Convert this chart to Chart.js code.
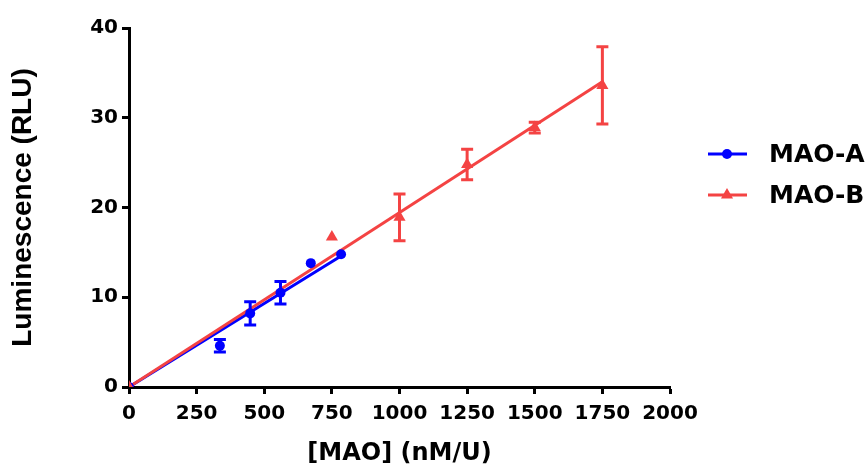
<!DOCTYPE html>
<html>
<head>
<meta charset="utf-8">
<script src="https://cdn.jsdelivr.net/npm/chart.js@4"></script>
<style>
  html, body { margin: 0; padding: 0; background: #fff; }
  .chart-container { width: 867px; height: 468px; position: relative; }
</style>
</head>
<body>
<div class="chart-container"><canvas id="maoChart"></canvas></div>
<script>
// MAO-A (blue circles)
const blueX = [0, 336, 448, 560, 672, 784];
const blueY = [0, 4.6, 8.2, 10.5, 13.8, 14.8];
const blueErr = [0, 0.7, 1.3, 1.25, 0, 0];
// MAO-B (red triangles)
const redX = [0, 750, 1000, 1250, 1500, 1750];
const redY = [0, 16.7, 18.9, 24.8, 28.9, 33.6];
const redErr = [0, 0, 2.6, 1.7, 0.6, 4.3];
// linear fits
const blueFitX = [0, 784];
const blueFitY = [0, 14.6];
const redFitX = [0, 1750];
const redFitY = [0, 34.0];
// axes
const xTicks = [0, 250, 500, 750, 1000, 1250, 1500, 1750, 2000];
const yTicks = [0, 10, 20, 30, 40];
const seriesNames = ['MAO-A', 'MAO-B'];

const BLUE = '#0000ff';
const RED = 'rgb(244,67,67)';
const AXIS_FONT = '"DejaVu Sans", sans-serif';

function toPoints(xs, ys) {
    return xs.map((x, i) => ({ x: x, y: ys[i] }));
}

// error bars drawn through the y scale
const errorBars = {
    id: 'errorBars',
    afterDatasetsDraw(chart) {
        const ctx = chart.ctx;
        const yScale = chart.scales.y;
        chart.data.datasets.forEach((ds, i) => {
            if (!ds.errors) return;
            const meta = chart.getDatasetMeta(i);
            ctx.save();
            ctx.strokeStyle = ds.borderColor;
            ctx.lineWidth = 3;
            meta.data.forEach((pt, j) => {
                const err = ds.errors[j];
                if (!err) return;
                const top = yScale.getPixelForValue(ds.data[j].y + err);
                const bot = yScale.getPixelForValue(ds.data[j].y - err);
                ctx.beginPath();
                ctx.moveTo(pt.x, top);
                ctx.lineTo(pt.x, bot);
                ctx.moveTo(pt.x - 6, top);
                ctx.lineTo(pt.x + 6, top);
                ctx.moveTo(pt.x - 6, bot);
                ctx.lineTo(pt.x + 6, bot);
                ctx.stroke();
            });
            ctx.restore();
        });
    }
};

// legend with line + marker
const sideLegend = {
    id: 'sideLegend',
    afterDraw(chart) {
        const ctx = chart.ctx;
        const items = [
            { name: seriesNames[0], color: BLUE, style: 'circle', radius: 5, y: 154 },
            { name: seriesNames[1], color: RED, style: 'triangle', radius: 7, y: 195 }
        ];
        ctx.save();
        items.forEach(it => {
            ctx.strokeStyle = it.color;
            ctx.lineWidth = 3;
            ctx.beginPath();
            ctx.moveTo(708, it.y);
            ctx.lineTo(747, it.y);
            ctx.stroke();
            ctx.fillStyle = it.color;
            Chart.helpers.drawPoint(ctx, {
                pointStyle: it.style, radius: it.radius, borderWidth: 0, rotation: 0
            }, 727, it.y);
            ctx.fillStyle = '#000';
            ctx.font = 'bold 25px ' + AXIS_FONT;
            ctx.textBaseline = 'middle';
            ctx.textAlign = 'left';
            ctx.fillText(it.name, 769, it.y + 1);
        });
        ctx.restore();
    }
};

const ctx = document.getElementById('maoChart').getContext('2d');
new Chart(ctx, {
    type: 'scatter',
    data: {
        datasets: [{
            label: seriesNames[1],
            data: toPoints(redX, redY),
            errors: redErr,
            borderColor: RED,
            backgroundColor: RED,
            pointStyle: 'triangle',
            pointRadius: 7,
            pointBorderWidth: 0,
            order: 0
        }, {
            label: seriesNames[0],
            data: toPoints(blueX, blueY),
            errors: blueErr,
            borderColor: BLUE,
            backgroundColor: BLUE,
            pointStyle: 'circle',
            pointRadius: 5,
            pointBorderWidth: 0,
            order: 1
        }, {
            type: 'line',
            label: 'MAO-B fit',
            data: toPoints(redFitX, redFitY),
            borderColor: RED,
            borderWidth: 3,
            pointRadius: 0,
            fill: false,
            order: 2
        }, {
            type: 'line',
            label: 'MAO-A fit',
            data: toPoints(blueFitX, blueFitY),
            borderColor: BLUE,
            borderWidth: 3,
            pointRadius: 0,
            fill: false,
            order: 3
        }]
    },
    options: {
        responsive: true,
        maintainAspectRatio: false,
        animation: false,
        layout: { padding: { left: 0, top: 28, right: 197, bottom: 0 } },
        plugins: {
            legend: { display: false },
            tooltip: { enabled: false }
        },
        scales: {
            x: {
                type: 'linear',
                min: 0,
                max: 2000,
                afterBuildTicks: axis => { axis.ticks = xTicks.map(v => ({ value: v })); },
                afterFit: scale => { scale.height = 81; },
                ticks: {
                    color: '#000',
                    padding: 8,
                    maxRotation: 0,
                    callback: v => String(v),
                    font: { family: AXIS_FONT, size: 20, weight: 'bold' }
                },
                grid: { drawOnChartArea: false, drawTicks: true, tickLength: 7, tickWidth: 3, tickColor: '#000' },
                border: { display: true, color: '#000', width: 3 },
                title: {
                    display: true,
                    text: '[MAO] (nM/U)',
                    color: '#000',
                    padding: { top: 0, bottom: 0 },
                    font: { family: AXIS_FONT, size: 24, weight: 'bold' }
                }
            },
            y: {
                min: 0,
                max: 40,
                afterBuildTicks: axis => { axis.ticks = yTicks.map(v => ({ value: v })); },
                afterFit: scale => { scale.width = 129; },
                ticks: {
                    color: '#000',
                    padding: 4,
                    callback: v => String(v),
                    font: { family: AXIS_FONT, size: 20, weight: 'bold' }
                },
                grid: { drawOnChartArea: false, drawTicks: true, tickLength: 7, tickWidth: 3, tickColor: '#000' },
                border: { display: true, color: '#000', width: 3 },
                title: {
                    display: true,
                    text: 'Luminescence (RLU)',
                    color: '#000',
                    padding: { top: 6, bottom: 0 },
                    font: { family: '"Liberation Sans", Arial, sans-serif', size: 28, weight: 'bold' }
                }
            }
        }
    },
    plugins: [errorBars, sideLegend]
});
</script>
</body>
</html>
